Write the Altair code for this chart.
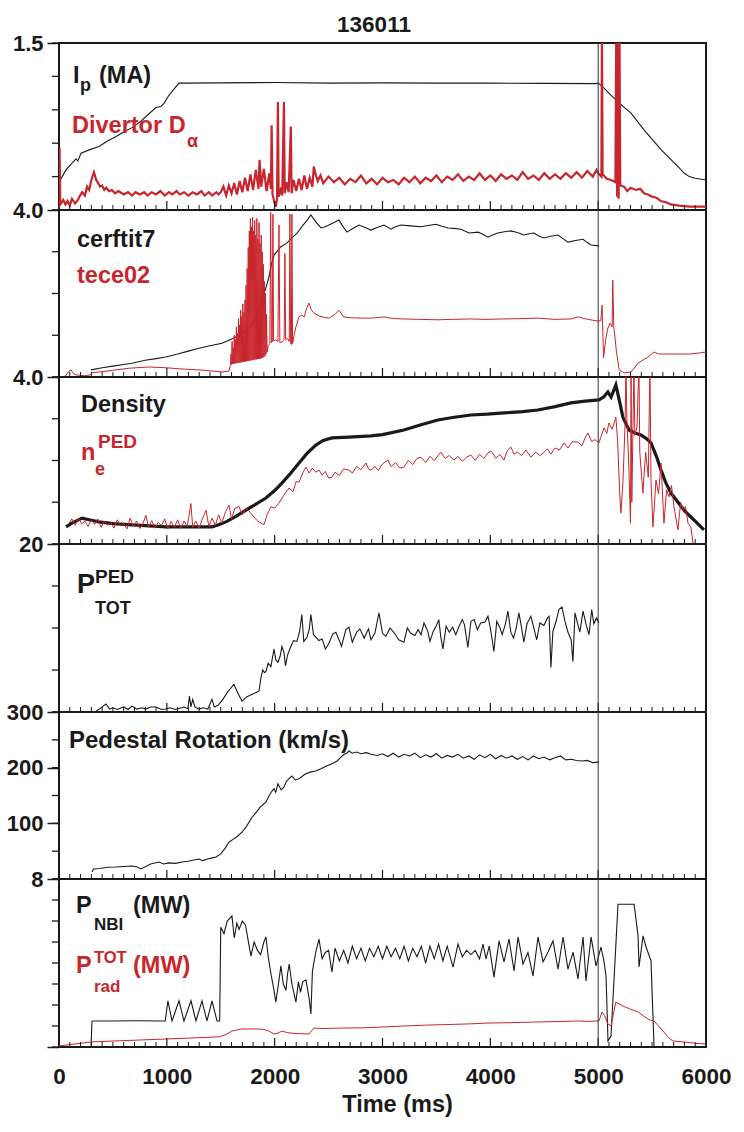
import altair as alt
import pandas as pd

FONT = "Liberation Sans, Arial, sans-serif"
BLACK = "#1a1a1a"
RED = "#c8252d"
W = 647
HEIGHTS = [167, 167, 167, 168, 167, 168]

SHOT = "136011"
X_LABELS = [0, 1000, 2000, 3000, 4000, 5000, 6000]
X_MAJOR = [1000, 2000, 3000, 4000, 5000]
X_MINOR = [t for t in range(100, 6000, 100) if t % 1000]
EVENT_T = [5000]

# ---------------- panel 1 : Ip (MA) and divertor D-alpha ----------------
IP_MA = [(0, 0.25), (30, 0.30), (65, 0.36), (110, 0.41), (158, 0.46), (175, 0.44), (204, 0.51),
         (280, 0.54), (371, 0.57), (450, 0.62), (530, 0.66), (600, 0.70), (677, 0.74), (750, 0.79),
         (830, 0.86), (899, 0.92), (946, 0.93), (975, 0.96), (1020, 1.03), (1070, 1.09), (1113, 1.14),
         (1160, 1.14), (1500, 1.142), (2000, 1.145), (2500, 1.14), (3000, 1.142), (3500, 1.14),
         (4000, 1.14), (4500, 1.137), (4980, 1.135), (5000, 1.14), (5050, 1.10), (5120, 1.03),
         (5195, 0.96), (5305, 0.87), (5425, 0.72), (5585, 0.54), (5740, 0.39), (5800, 0.33),
         (5845, 0.30), (5900, 0.285), (6000, 0.27)]

D_ALPHA = [(0, 0.02), (5, 0.56), (12, 0.05), (40, 0.09), (60, 0.05), (80, 0.08), (100, 0.04), (120, 0.10),
           (150, 0.06), (175, 0.09), (190, 0.12), (215, 0.16), (240, 0.13), (260, 0.21), (280, 0.18),
           (300, 0.27), (324, 0.34), (345, 0.27), (365, 0.24), (380, 0.21), (400, 0.22), (420, 0.18),
           (440, 0.20), (464, 0.17), (490, 0.18), (520, 0.15), (550, 0.17), (600, 0.14), (640, 0.16),
           (677, 0.13), (710, 0.16), (750, 0.14), (790, 0.16), (820, 0.13), (860, 0.16), (900, 0.14),
           (940, 0.17), (980, 0.13), (1020, 0.16), (1050, 0.14), (1090, 0.17), (1120, 0.14), (1160, 0.16),
           (1200, 0.13), (1240, 0.16), (1280, 0.14), (1320, 0.17), (1350, 0.13), (1390, 0.16), (1420, 0.13),
           (1460, 0.16), (1480, 0.14), (1500, 0.16), (1525, 0.21), (1550, 0.13), (1575, 0.22), (1600, 0.15),
           (1625, 0.24), (1650, 0.14), (1675, 0.26), (1700, 0.16), (1725, 0.29), (1750, 0.17), (1775, 0.32),
           (1800, 0.18), (1825, 0.36), (1850, 0.19), (1860, 0.45), (1875, 0.21), (1900, 0.37), (1925, 0.17),
           (1950, 0.33), (1965, 0.19), (1972, 0.76), (1980, 0.14), (2000, 0.06), (2010, 0.03), (2022, 0.10),
           (2030, 0.97), (2037, 0.12), (2055, 0.18), (2070, 0.13), (2086, 0.97), (2093, 0.15), (2110, 0.25),
           (2130, 0.16), (2150, 0.75), (2157, 0.15), (2175, 0.27), (2200, 0.17), (2225, 0.28), (2250, 0.18),
           (2275, 0.31), (2300, 0.19), (2325, 0.29), (2350, 0.21), (2363, 0.39), (2380, 0.32), (2400, 0.26),
           (2425, 0.31), (2450, 0.24), (2500, 0.30), (2550, 0.25), (2600, 0.29), (2650, 0.23), (2700, 0.28),
           (2750, 0.25), (2800, 0.31), (2850, 0.24), (2900, 0.28), (2950, 0.23), (3000, 0.29), (3050, 0.25),
           (3100, 0.27), (3150, 0.23), (3200, 0.29), (3250, 0.25), (3300, 0.30), (3350, 0.24), (3400, 0.29),
           (3450, 0.26), (3500, 0.31), (3550, 0.25), (3600, 0.30), (3650, 0.27), (3700, 0.32), (3750, 0.26),
           (3800, 0.30), (3850, 0.27), (3900, 0.33), (3950, 0.27), (4000, 0.31), (4050, 0.26), (4100, 0.32),
           (4150, 0.28), (4200, 0.31), (4250, 0.27), (4300, 0.34), (4350, 0.28), (4400, 0.31), (4450, 0.27),
           (4500, 0.33), (4550, 0.28), (4600, 0.32), (4650, 0.28), (4700, 0.33), (4750, 0.29), (4800, 0.34),
           (4850, 0.29), (4900, 0.35), (4950, 0.30), (4985, 0.36), (5000, 0.33), (5030, 0.30), (5035, 1.6),
           (5041, 0.32), (5080, 0.28), (5120, 0.27), (5160, 0.25), (5168, 1.7), (5176, 0.12), (5183, 1.7),
           (5190, 0.10), (5197, 1.7), (5205, 0.22), (5240, 0.21), (5270, 0.17), (5300, 0.20), (5350, 0.18),
           (5390, 0.19), (5425, 0.15), (5460, 0.14), (5500, 0.12), (5540, 0.11), (5580, 0.08), (5630, 0.07),
           (5675, 0.05), (5750, 0.04), (5850, 0.03), (5950, 0.03), (6000, 0.03)]

# ---------------- panel 2 : cerftit7 and tece02 (keV) ----------------
CERFTIT7 = [(296, 0.17), (400, 0.22), (500, 0.26), (600, 0.30), (677, 0.33), (800, 0.40), (900, 0.44),
            (990, 0.48), (1100, 0.55), (1200, 0.62), (1298, 0.69), (1400, 0.75), (1511, 0.81), (1560, 0.86),
            (1610, 0.92), (1669, 1.00), (1730, 1.10), (1790, 1.24), (1840, 1.50), (1882, 1.84), (1915, 2.10),
            (1947, 2.40), (1970, 2.70), (1994, 2.92), (2058, 3.12), (2110, 3.20), (2160, 3.33), (2210, 3.45),
            (2252, 3.60), (2300, 3.75), (2336, 3.88), (2380, 3.72), (2429, 3.57), (2470, 3.60), (2503, 3.64),
            (2550, 3.70), (2596, 3.76), (2630, 3.62), (2670, 3.47), (2720, 3.55), (2782, 3.64), (2840, 3.58),
            (2893, 3.52), (2950, 3.58), (3014, 3.64), (3078, 3.54), (3120, 3.60), (3170, 3.64), (3260, 3.62),
            (3357, 3.60), (3420, 3.63), (3496, 3.66), (3550, 3.61), (3607, 3.57), (3660, 3.56), (3728, 3.54),
            (3802, 3.45), (3886, 3.47), (3930, 3.42), (3978, 3.35), (4020, 3.40), (4071, 3.45), (4130, 3.48),
            (4191, 3.50), (4250, 3.46), (4311, 3.40), (4360, 3.43), (4404, 3.45), (4450, 3.38), (4497, 3.33),
            (4560, 3.37), (4627, 3.40), (4670, 3.32), (4720, 3.23), (4790, 3.27), (4859, 3.30), (4900, 3.22),
            (4933, 3.16), (5008, 3.14)]

TECE02 = [(0, 0.0), (60, 0.02), (85, 0.12), (111, 0.17), (135, 0.08), (160, 0.05), (200, 0.04), (240, 0.03),
          (290, 0.05), (306, 0.10), (371, 0.12), (500, 0.16), (650, 0.21), (834, 0.24), (1000, 0.22),
          (1150, 0.19), (1298, 0.17), (1400, 0.15), (1511, 0.12), (1576, 0.14), (1590, 0.30), (1595, 0.55),
          (1600, 0.30), (1605, 0.85), (1610, 0.31), (1615, 0.70), (1620, 0.32), (1625, 1.00), (1630, 0.32),
          (1635, 0.90), (1640, 0.33), (1645, 1.20), (1650, 0.33), (1655, 1.05), (1660, 0.34), (1665, 1.40),
          (1670, 0.34), (1675, 1.25), (1680, 0.35), (1685, 1.60), (1690, 0.35), (1695, 1.45), (1700, 0.36),
          (1705, 1.75), (1710, 0.36), (1715, 1.55), (1720, 0.37), (1725, 1.85), (1730, 0.37), (1735, 2.20),
          (1740, 0.38), (1745, 2.60), (1750, 0.38), (1755, 3.10), (1760, 0.39), (1765, 3.50), (1770, 0.39),
          (1775, 3.80), (1780, 0.40), (1785, 3.60), (1790, 0.40), (1795, 3.83), (1800, 0.41), (1805, 3.50),
          (1810, 0.41), (1815, 3.75), (1820, 0.42), (1825, 3.40), (1830, 0.42), (1835, 3.80), (1840, 0.43),
          (1845, 3.30), (1850, 0.43), (1855, 3.70), (1860, 0.44), (1865, 3.20), (1870, 0.44), (1875, 3.40),
          (1880, 0.45), (1885, 3.00), (1890, 0.46), (1895, 2.70), (1900, 0.48), (1905, 2.30), (1910, 0.50),
          (1915, 2.00), (1920, 0.55), (1925, 1.50), (1930, 0.60), (1940, 0.75), (1955, 0.80), (1963, 3.95),
          (1970, 0.82), (1978, 0.85), (1984, 3.90), (1990, 0.86), (2010, 0.89), (2030, 0.85), (2040, 3.64),
          (2048, 0.82), (2070, 0.84), (2088, 0.90), (2095, 2.96), (2102, 0.90), (2120, 0.92), (2135, 0.85),
          (2141, 3.90), (2148, 0.80), (2155, 0.78), (2160, 3.90), (2166, 0.80), (2180, 1.00), (2197, 1.20),
          (2226, 1.45), (2252, 1.48), (2275, 1.44), (2290, 1.60), (2318, 1.77), (2340, 1.60), (2364, 1.53),
          (2420, 1.45), (2503, 1.41), (2560, 1.50), (2596, 1.60), (2640, 1.44), (2700, 1.42), (2800, 1.41),
          (2893, 1.41), (3014, 1.44), (3100, 1.40), (3198, 1.39), (3350, 1.38), (3513, 1.37), (3650, 1.38),
          (3820, 1.39), (3950, 1.38), (4126, 1.39), (4300, 1.40), (4441, 1.41), (4600, 1.38), (4747, 1.39),
          (4812, 1.44), (4870, 1.40), (4950, 1.36), (5000, 1.34), (5025, 1.35), (5036, 1.72), (5050, 0.46),
          (5070, 0.90), (5090, 1.17), (5110, 1.29), (5130, 1.20), (5135, 2.32), (5145, 1.20), (5170, 0.60),
          (5195, 0.17), (5240, 0.10), (5305, 0.12), (5369, 0.33), (5462, 0.48), (5518, 0.60), (5560, 0.55),
          (5650, 0.55), (5750, 0.55), (5850, 0.55), (5950, 0.58), (6000, 0.60)]

# ---------------- panel 3 : density and n_e^PED ----------------
DENSITY = [(65, 0.41), (120, 0.50), (213, 0.62), (300, 0.57), (371, 0.53), (500, 0.49), (677, 0.46),
           (800, 0.44), (990, 0.41), (1200, 0.41), (1419, 0.41), (1480, 0.46), (1548, 0.53), (1640, 0.66),
           (1734, 0.81), (1830, 0.96), (1919, 1.10), (2000, 1.28), (2067, 1.46), (2150, 1.70), (2226, 1.94),
           (2300, 2.17), (2382, 2.37), (2450, 2.48), (2531, 2.54), (2689, 2.56), (2893, 2.59), (3000, 2.62),
           (3198, 2.73), (3350, 2.85), (3513, 2.97), (3650, 3.03), (3820, 3.09), (3970, 3.11), (4126, 3.14),
           (4300, 3.17), (4441, 3.21), (4600, 3.29), (4747, 3.38), (4880, 3.42), (5007, 3.45), (5050, 3.52),
           (5090, 3.64), (5120, 3.52), (5164, 3.81), (5200, 3.40), (5229, 3.04), (5286, 2.73), (5340, 2.66),
           (5397, 2.61), (5450, 2.52), (5490, 2.42), (5540, 2.10), (5583, 1.77), (5630, 1.45), (5675, 1.22),
           (5740, 1.00), (5796, 0.81), (5850, 0.67), (5907, 0.53), (5981, 0.34)]

NE_PED = [(93, 0.50), (120, 0.60), (150, 0.45), (180, 0.62), (210, 0.48), (240, 0.55), (270, 0.42),
          (300, 0.58), (330, 0.47), (360, 0.60), (390, 0.40), (420, 0.55), (450, 0.45), (480, 0.52),
          (510, 0.38), (540, 0.58), (570, 0.44), (600, 0.50), (630, 0.36), (660, 0.62), (690, 0.42),
          (720, 0.55), (750, 0.37), (780, 0.50), (806, 0.69), (830, 0.40), (860, 0.56), (890, 0.38),
          (920, 0.52), (950, 0.44), (980, 0.60), (1010, 0.36), (1040, 0.54), (1070, 0.40), (1100, 0.58),
          (1130, 0.37), (1160, 0.55), (1190, 0.42), (1223, 0.97), (1240, 0.40), (1270, 0.55), (1300, 0.38),
          (1330, 0.60), (1363, 0.81), (1390, 0.42), (1420, 0.62), (1450, 0.45), (1480, 0.70), (1510, 0.50),
          (1545, 0.78), (1576, 0.93), (1600, 0.60), (1630, 0.85), (1669, 0.90), (1700, 0.70), (1730, 0.86),
          (1760, 0.80), (1790, 0.70), (1830, 0.58), (1860, 0.52), (1901, 0.46), (1930, 0.70), (1965, 0.89),
          (2000, 0.86), (2040, 0.98), (2080, 1.15), (2133, 1.34), (2170, 1.25), (2200, 1.50), (2226, 1.48),
          (2260, 1.70), (2290, 1.84), (2320, 1.70), (2350, 1.82), (2380, 1.72), (2411, 1.77), (2440, 1.65),
          (2470, 1.74), (2500, 1.58), (2531, 1.60), (2560, 1.72), (2600, 1.64), (2640, 1.80), (2689, 1.77),
          (2720, 1.70), (2760, 1.86), (2800, 1.78), (2847, 1.94), (2870, 1.80), (2893, 1.77), (2930, 1.86),
          (2960, 1.76), (3000, 1.92), (3050, 2.01), (3080, 1.85), (3120, 1.95), (3160, 1.82), (3198, 1.84),
          (3240, 2.00), (3280, 1.90), (3320, 2.05), (3357, 2.08), (3400, 1.95), (3440, 2.10), (3480, 2.00),
          (3541, 2.20), (3580, 2.05), (3620, 2.12), (3662, 2.01), (3700, 2.10), (3740, 1.98), (3780, 2.08),
          (3820, 2.13), (3860, 2.00), (3900, 2.15), (3940, 2.05), (3978, 2.18), (4010, 2.22), (4050, 2.06),
          (4090, 2.14), (4126, 2.01), (4160, 2.25), (4191, 2.32), (4220, 2.15), (4250, 2.20), (4290, 2.12),
          (4330, 2.25), (4376, 2.08), (4420, 2.20), (4460, 2.12), (4497, 2.20), (4530, 2.28), (4560, 2.15),
          (4600, 2.30), (4640, 2.25), (4683, 2.42), (4720, 2.30), (4760, 2.45), (4812, 2.44), (4850, 2.35),
          (4880, 2.55), (4905, 2.66), (4940, 2.45), (4970, 2.50), (5007, 2.42), (5030, 2.60), (5054, 2.78),
          (5080, 2.65), (5100, 2.90), (5130, 2.75), (5164, 3.04), (5180, 2.50), (5200, 1.20), (5211, 0.74),
          (5230, 1.50), (5250, 2.90), (5258, 4.30), (5266, 3.00), (5285, 1.80), (5300, 0.50), (5305, 4.30),
          (5312, 1.00), (5332, 4.30), (5340, 2.60), (5360, 2.80), (5378, 4.30), (5386, 2.20), (5415, 1.22),
          (5440, 2.20), (5465, 1.60), (5480, 4.30), (5490, 1.50), (5508, 0.41), (5536, 1.53), (5560, 1.20),
          (5583, 1.94), (5610, 0.50), (5635, 1.30), (5657, 1.13), (5680, 1.40), (5703, 0.89), (5740, 0.34),
          (5765, 1.00), (5787, 0.81), (5810, 0.90), (5833, 0.50), (5860, 0.40), (5880, 0.02)]

# ---------------- panel 4 : P_TOT^PED ----------------
P_PED = [(343, 0.10), (380, 0.40), (435, 0.95), (470, 0.35), (500, 0.50), (540, 0.30), (600, 0.60),
         (640, 0.30), (677, 0.70), (720, 0.35), (770, 0.50), (806, 0.35), (850, 0.60), (899, 0.60),
         (950, 0.30), (990, 0.35), (1030, 0.50), (1080, 0.30), (1120, 0.45), (1160, 0.60), (1195, 0.40),
         (1210, 1.90), (1223, 0.60), (1240, 1.50), (1260, 0.60), (1298, 0.35), (1340, 0.50), (1380, 0.35),
         (1419, 1.50), (1440, 0.60), (1475, 0.80), (1520, 1.50), (1560, 2.30), (1590, 2.80), (1622, 3.30),
         (1660, 2.20), (1697, 1.30), (1740, 1.80), (1790, 2.10), (1840, 2.40), (1855, 2.50), (1873, 4.10),
         (1890, 5.00), (1905, 4.70), (1919, 4.80), (1940, 5.80), (1965, 5.40), (1994, 7.50), (2011, 6.20),
         (2030, 5.90), (2050, 6.60), (2067, 7.80), (2086, 7.10), (2100, 5.50), (2120, 6.80), (2150, 7.80),
         (2175, 8.50), (2206, 8.40), (2230, 9.50), (2252, 11.6), (2270, 8.40), (2300, 8.90), (2320, 9.80),
         (2336, 11.6), (2360, 9.20), (2382, 8.90), (2410, 8.50), (2440, 8.70), (2470, 7.50), (2500, 8.10),
         (2540, 9.30), (2568, 9.50), (2600, 8.50), (2620, 7.80), (2660, 9.80), (2689, 10.1), (2720, 8.30),
         (2760, 9.50), (2790, 9.90), (2830, 8.80), (2870, 9.90), (2893, 8.60), (2930, 9.40), (2967, 11.8),
         (3000, 9.40), (3030, 9.00), (3070, 10.0), (3110, 9.40), (3150, 8.60), (3198, 8.30), (3230, 10.0),
         (3260, 9.40), (3300, 9.10), (3330, 9.80), (3357, 9.20), (3385, 10.6), (3420, 9.60), (3440, 8.40),
         (3470, 9.60), (3500, 10.3), (3522, 11.0), (3540, 9.00), (3560, 7.50), (3590, 10.2), (3620, 9.50),
         (3650, 10.1), (3680, 9.20), (3710, 10.2), (3740, 11.0), (3760, 10.4), (3792, 7.70), (3820, 10.8),
         (3850, 11.0), (3880, 9.80), (3910, 10.6), (3950, 10.7), (3978, 11.4), (4000, 10.0), (4033, 7.20),
         (4060, 10.8), (4090, 10.0), (4110, 9.20), (4140, 10.5), (4163, 12.0), (4190, 9.50), (4215, 8.80),
         (4240, 10.0), (4265, 11.8), (4290, 10.0), (4311, 8.30), (4340, 10.5), (4376, 11.4), (4400, 10.2),
         (4430, 8.60), (4460, 10.6), (4497, 10.3), (4530, 11.2), (4545, 11.4), (4562, 5.30), (4580, 9.60),
         (4610, 10.8), (4636, 12.2), (4664, 12.5), (4690, 10.9), (4720, 9.50), (4750, 8.60), (4766, 6.00),
         (4785, 11.8), (4810, 10.5), (4830, 9.50), (4860, 12.0), (4890, 10.3), (4915, 9.20), (4940, 12.2),
         (4960, 10.5), (4985, 11.2), (5007, 10.6)]

# ---------------- panel 5 : pedestal rotation (km/s) ----------------
ROTATION = [(306, 12.6), (320, 18), (380, 19), (450, 21), (528, 21.6), (600, 22.5), (677, 23.4), (720, 22),
            (760, 18), (800, 22), (850, 27), (927, 30.5), (970, 27), (1020, 29), (1080, 28), (1141, 30.5),
            (1200, 32), (1250, 34), (1298, 36), (1330, 33), (1380, 36), (1420, 38), (1456, 39.5), (1500, 45),
            (1540, 55), (1576, 66), (1620, 72), (1650, 76), (1697, 84), (1740, 95), (1790, 111), (1830, 120),
            (1870, 130), (1919, 138), (1950, 150), (1975, 158), (1994, 162), (2010, 156), (2030, 171),
            (2060, 160), (2086, 165), (2110, 176), (2130, 180), (2160, 185), (2190, 178), (2226, 180),
            (2280, 188), (2330, 192), (2382, 194), (2430, 198), (2480, 203), (2531, 207), (2580, 212),
            (2610, 218), (2643, 224), (2670, 226), (2689, 230), (2720, 226), (2760, 228), (2800, 225),
            (2850, 227), (2893, 224), (2950, 222), (3000, 225), (3050, 220), (3100, 226), (3150, 219),
            (3200, 224), (3250, 221), (3300, 226), (3350, 218), (3400, 223), (3450, 219), (3500, 225),
            (3550, 217), (3600, 222), (3650, 219), (3700, 224), (3750, 217), (3800, 221), (3850, 215),
            (3900, 223), (3950, 218), (4000, 224), (4050, 216), (4100, 222), (4150, 217), (4200, 221),
            (4250, 215), (4300, 220), (4350, 214), (4400, 221), (4450, 216), (4500, 219), (4550, 214),
            (4600, 218), (4650, 221), (4700, 214), (4750, 215), (4800, 213), (4850, 212), (4900, 213),
            (4950, 209), (5007, 210)]

# ---------------- panel 6 : P_NBI and P_rad (MW) ----------------
P_NBI = [(0, 0.0), (297, 0.0), (306, 1.24), (500, 1.24), (700, 1.25), (985, 1.24), (1010, 2.20), (1048, 1.24),
         (1113, 2.20), (1159, 1.24), (1224, 2.20), (1270, 1.24), (1326, 2.20), (1372, 1.24), (1419, 2.20),
         (1465, 1.24), (1490, 1.24), (1500, 5.70), (1530, 5.40), (1560, 6.00), (1604, 6.24), (1625, 5.20),
         (1650, 5.90), (1670, 5.60), (1700, 6.00), (1730, 5.80), (1750, 5.20), (1780, 4.33), (1810, 5.00),
         (1840, 4.60), (1870, 4.40), (1900, 5.00), (1919, 5.24), (1940, 4.30), (1965, 3.50), (1990, 2.80),
         (2011, 2.14), (2035, 3.00), (2058, 3.86), (2080, 3.00), (2105, 2.70), (2120, 3.50), (2135, 3.95),
         (2160, 3.00), (2197, 2.14), (2220, 3.10), (2240, 2.60), (2260, 3.10), (2290, 3.20), (2320, 2.30),
         (2336, 1.57), (2350, 3.60), (2380, 4.50), (2411, 5.14), (2440, 4.20), (2470, 4.50), (2500, 4.60),
         (2531, 3.57), (2560, 4.70), (2600, 4.10), (2640, 4.60), (2680, 4.00), (2720, 4.80), (2760, 4.20),
         (2800, 4.70), (2840, 4.10), (2880, 4.70), (2920, 4.30), (2960, 4.80), (3000, 4.20), (3040, 4.80),
         (3080, 4.30), (3120, 4.70), (3160, 4.20), (3200, 4.80), (3240, 4.10), (3280, 4.70), (3320, 4.30),
         (3360, 4.80), (3400, 4.00), (3440, 4.80), (3480, 4.20), (3520, 4.90), (3560, 4.10), (3600, 4.80),
         (3654, 3.80), (3700, 4.90), (3740, 4.30), (3780, 4.60), (3820, 4.40), (3860, 4.60), (3900, 4.20),
         (3932, 4.90), (3960, 4.20), (3990, 4.80), (4034, 3.33), (4081, 5.05), (4127, 4.05), (4173, 5.14),
         (4220, 3.62), (4257, 5.24), (4303, 3.95), (4349, 4.50), (4396, 3.38), (4442, 5.24), (4489, 4.05),
         (4535, 4.52), (4581, 5.05), (4628, 3.71), (4674, 5.24), (4720, 3.71), (4767, 4.52), (4813, 3.24),
         (4860, 5.24), (4887, 3.14), (4934, 5.24), (4980, 3.86), (5026, 4.76), (5050, 4.20), (5073, 3.38),
         (5091, 0.29), (5119, 0.52), (5150, 3.50), (5184, 6.80), (5333, 6.80), (5370, 5.29), (5379, 3.81),
         (5416, 5.29), (5444, 4.76), (5490, 4.10), (5518, 0.05), (5530, 0.0)]

P_RAD = [(0, 0.05), (297, 0.24), (528, 0.29), (990, 0.38), (1484, 0.48), (1550, 0.60), (1604, 0.76),
         (1697, 0.86), (1800, 0.86), (1900, 0.84), (1950, 0.75), (1994, 0.62), (2030, 0.66), (2067, 0.76),
         (2120, 0.68), (2200, 0.64), (2318, 0.62), (2364, 0.90), (2450, 0.88), (2600, 0.90), (2800, 0.91),
         (3000, 0.95), (3200, 1.00), (3400, 1.04), (3600, 1.07), (3800, 1.10), (3978, 1.14), (4200, 1.16),
         (4441, 1.19), (4700, 1.22), (4812, 1.24), (4900, 1.22), (5007, 1.24), (5036, 1.67), (5060, 1.50),
         (5090, 1.10), (5119, 1.00), (5164, 2.14), (5229, 1.95), (5300, 1.80), (5369, 1.67), (5420, 1.48),
         (5470, 1.30), (5518, 1.24), (5560, 1.00), (5610, 0.71), (5650, 0.45), (5693, 0.29), (5789, 0.24),
         (5900, 0.18), (6000, 0.14)]

# y-axis: top of range, all tick positions, labelled positions
Y_TOPS = [1.5, 4.0, 4.0, 20, 300, 8]
Y_TICKS = [[0, 0.3, 0.6, 0.9, 1.2, 1.5], [0, 1, 2, 3, 4], [0, 1, 2, 3, 4], [0, 5, 10, 15, 20],
           [0, 50, 100, 150, 200, 250, 300], [0, 1, 2, 3, 4, 5, 6, 7, 8]]
Y_LABELLED = [[1.5], [4], [4], [20], [100, 200, 300], [0, 8]]
Y_LABEL_EXPR = ["format(datum.value, '.1f')", "format(datum.value, '.1f')", "format(datum.value, '.1f')",
                "format(datum.value, 'd')", "format(datum.value, 'd')",
                "datum.value == 0 ? '' : format(datum.value, 'd')"]

DUMMY = pd.DataFrame({"k": [0]})
MAIN = 23.5   # main annotation font size
SUB = 18      # sub/superscript font size


def frame(pairs):
    return pd.DataFrame({"t": [p[0] for p in pairs], "v": [p[1] for p in pairs]})


def panel(i, traces, texts, bottom=False):
    H = HEIGHTS[i]
    yscale = alt.Scale(domain=[0, Y_TOPS[i]], nice=False, zero=False)
    yaxis = alt.Axis(values=Y_LABELLED[i], labelExpr=Y_LABEL_EXPR[i], tickSize=12, tickWidth=1.5,
                     tickColor=BLACK, labelFontSize=22, labelFont=FONT, labelFontWeight="bold",
                     labelColor=BLACK, labelPadding=4, domain=False, grid=False, title=None)
    Y = alt.Y("v:Q", scale=yscale, axis=yaxis)
    if bottom:
        xaxis = alt.Axis(values=X_LABELS, format="d", ticks=False, domain=False, grid=False,
                         labelFontSize=22.5, labelFont=FONT, labelFontWeight="bold", labelColor=BLACK,
                         labelPadding=18, labelFlush=False, title="Time (ms)", titleFontSize=23.5,
                         titleFont=FONT, titleFontWeight="bold", titleColor=BLACK, titlePadding=5,
                         titleX=338)
    else:
        xaxis = None
    X = alt.X("t:Q", scale=alt.Scale(domain=[0, 6000], nice=False), axis=xaxis)

    layers = []
    for (pairs, color, width) in traces:
        layers.append(alt.Chart(frame(pairs)).mark_line(color=color, strokeWidth=width, clip=True)
                      .encode(x=X, y=Y))
    # minor y ticks (outside, short)
    layers.append(alt.Chart(pd.DataFrame({"v": Y_TICKS[i]})).mark_rule(color=BLACK, strokeWidth=1.3)
                  .encode(y=Y, x=alt.value(-7), x2=alt.value(0)))
    # inward x ticks
    layers.append(alt.Chart(pd.DataFrame({"t": X_MINOR})).mark_rule(color=BLACK, strokeWidth=1)
                  .encode(x=X, y=alt.value(H), y2=alt.value(H - 5)))
    layers.append(alt.Chart(pd.DataFrame({"t": X_MAJOR})).mark_rule(color=BLACK, strokeWidth=1.2)
                  .encode(x=X, y=alt.value(H), y2=alt.value(H - 9)))
    # event line
    layers.append(alt.Chart(pd.DataFrame({"t": EVENT_T})).mark_rule(color="#333333", strokeWidth=1)
                  .encode(x=X, y=alt.value(0), y2=alt.value(H)))
    for (txt, x, y, size, color, align) in texts:
        layers.append(alt.Chart(DUMMY).mark_text(text=txt, font=FONT, fontSize=size, fontWeight="bold",
                                                 color=color, align=align, baseline="alphabetic")
                      .encode(x=alt.value(x), y=alt.value(y)))
    return alt.layer(*layers).properties(width=W, height=H)


p1 = panel(0, [(IP_MA, BLACK, 1.1), (D_ALPHA, RED, 2.2)],
           [(SHOT, 315, -11, 22.5, BLACK, "center"),
            ("I", 14, 40, MAIN, BLACK, "left"), ("p", 21, 48, SUB, BLACK, "left"),
            ("(MA)", 40, 40, MAIN, BLACK, "left"),
            ("Divertor D", 13, 90, MAIN, RED, "left"), ("α", 128, 104, SUB, RED, "left")])
p2 = panel(1, [(CERFTIT7, BLACK, 1.1), (TECE02, RED, 1.0)],
           [("cerftit7", 18, 37, MAIN, BLACK, "left"), ("tece02", 18, 73, MAIN, RED, "left")])
p3 = panel(2, [(DENSITY, BLACK, 3.2), (NE_PED, RED, 1.0)],
           [("Density", 22, 35, MAIN, BLACK, "left"), ("n", 22, 83, MAIN, RED, "left"),
            ("PED", 39, 71, 19, RED, "left"), ("e", 36, 98, SUB, RED, "left")])
p4 = panel(3, [(P_PED, BLACK, 1.1)],
           [("P", 18, 49, 27, BLACK, "left"), ("PED", 36, 39, 19, BLACK, "left"),
            ("TOT", 36, 70, SUB, BLACK, "left")])
p5 = panel(4, [(ROTATION, BLACK, 1.1)],
           [("Pedestal Rotation (km/s)", 10, 36, 24, BLACK, "left")])
p6 = panel(5, [(P_NBI, BLACK, 1.1), (P_RAD, RED, 1.0)],
           [("P", 17, 34, MAIN, BLACK, "left"), ("NBI", 35, 51, 17, BLACK, "left"),
            ("(MW)", 74, 34, MAIN, BLACK, "left"),
            ("P", 17, 94, MAIN, RED, "left"), ("TOT", 35, 84, 16.5, RED, "left"),
            ("rad", 35, 113, 17, RED, "left"), ("(MW)", 74, 94, MAIN, RED, "left")],
           bottom=True)

chart = (alt.vconcat(p1, p2, p3, p4, p5, p6, spacing=0, bounds="flush")
         .properties(padding={"left": 5, "top": 13, "right": 4, "bottom": 4}, background="white")
         .configure_view(stroke=BLACK, strokeWidth=2))

chart.save("out.html", embed_options={"renderer": "svg", "actions": False})
